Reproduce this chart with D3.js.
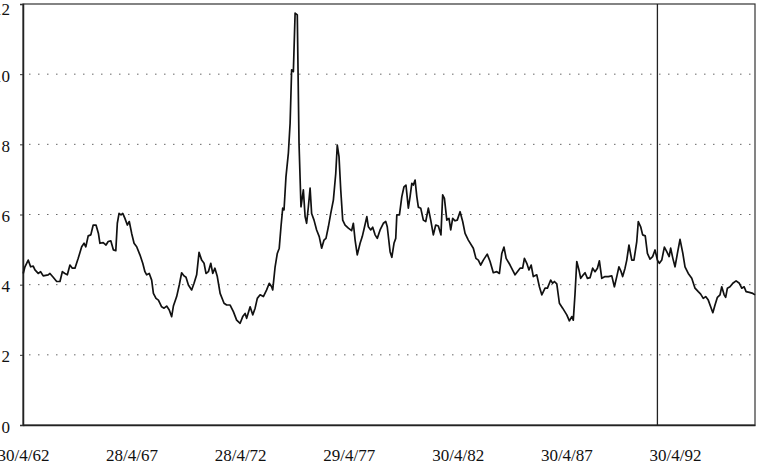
<!DOCTYPE html>
<html>
<head>
<meta charset="utf-8">
<script src="https://cdn.jsdelivr.net/npm/d3@7"></script>
<style>
  body { margin: 0; background: #fff; }
  svg { display: block; }
</style>
</head>
<body>
<script>
"use strict";

// decimal years
const dates = [
  1962.34, 1962.42, 1962.57, 1962.68, 1962.80, 1962.88, 1963.03, 1963.14, 1963.26, 1963.49,
  1963.57, 1963.72, 1963.88, 1964.03, 1964.14, 1964.26, 1964.37, 1964.49, 1964.60, 1964.72,
  1964.87, 1965.03, 1965.14, 1965.22, 1965.33, 1965.45, 1965.56, 1965.69, 1965.80, 1965.87,
  1966.02, 1966.15, 1966.25, 1966.37, 1966.49, 1966.60, 1966.67, 1966.75, 1966.84, 1966.92,
  1967.02, 1967.13, 1967.22, 1967.33, 1967.44, 1967.56, 1967.71, 1967.84, 1967.94, 1968.02,
  1968.14, 1968.25, 1968.33, 1968.45, 1968.56, 1968.71, 1968.82, 1968.94, 1969.06, 1969.17,
  1969.25, 1969.40, 1969.52, 1969.63, 1969.74, 1969.83, 1969.94, 1970.09, 1970.20, 1970.32,
  1970.43, 1970.55, 1970.66, 1970.75, 1970.86, 1970.97, 1971.06, 1971.16, 1971.27, 1971.40,
  1971.58, 1971.70, 1971.86, 1972.01, 1972.16, 1972.32, 1972.44, 1972.55, 1972.62, 1972.78,
  1972.90, 1973.01, 1973.11, 1973.24, 1973.39, 1973.54, 1973.66, 1973.77, 1973.82, 1973.93,
  1974.03, 1974.12, 1974.20, 1974.28, 1974.34, 1974.43, 1974.54, 1974.62, 1974.69, 1974.77,
  1974.85, 1974.95, 1975.03, 1975.12, 1975.23, 1975.31, 1975.38, 1975.46, 1975.54, 1975.61,
  1975.72, 1975.84, 1975.96, 1976.07, 1976.18, 1976.27, 1976.38, 1976.49, 1976.61, 1976.72,
  1976.79, 1976.87, 1976.95, 1977.04, 1977.15, 1977.30, 1977.45, 1977.53, 1977.61, 1977.71,
  1977.84, 1977.94, 1978.03, 1978.15, 1978.22, 1978.33, 1978.42, 1978.53, 1978.63, 1978.76,
  1978.91, 1979.02, 1979.09, 1979.22, 1979.30, 1979.40, 1979.48, 1979.53, 1979.65, 1979.76,
  1979.86, 1979.95, 1980.06, 1980.14, 1980.22, 1980.29, 1980.37, 1980.45, 1980.52, 1980.63,
  1980.75, 1980.86, 1980.98, 1981.09, 1981.21, 1981.32, 1981.44, 1981.56, 1981.64, 1981.72,
  1981.83, 1981.93, 1982.01, 1982.10, 1982.21, 1982.31, 1982.44, 1982.56, 1982.67, 1982.82,
  1983.05, 1983.17, 1983.28, 1983.39, 1983.51, 1983.69, 1983.82, 1983.97, 1984.13, 1984.25,
  1984.36, 1984.46, 1984.56, 1984.74, 1984.97, 1985.20, 1985.32, 1985.40, 1985.51, 1985.61,
  1985.71, 1985.81, 1985.97, 1986.09, 1986.20, 1986.35, 1986.46, 1986.55, 1986.61, 1986.70,
  1986.78, 1986.89, 1987.01, 1987.16, 1987.35, 1987.47, 1987.58, 1987.65, 1987.73, 1987.81,
  1987.91, 1987.99, 1988.11, 1988.19, 1988.30, 1988.42, 1988.54, 1988.65, 1988.76, 1988.85,
  1988.96, 1989.11, 1989.26, 1989.42, 1989.54, 1989.65, 1989.75, 1989.85, 1989.92, 1990.03,
  1990.11, 1990.21, 1990.34, 1990.44, 1990.57, 1990.64, 1990.75, 1990.84, 1990.96, 1991.06,
  1991.18, 1991.30, 1991.41, 1991.52, 1991.61, 1991.72, 1991.84, 1991.95, 1992.06, 1992.13,
  1992.23, 1992.33, 1992.44, 1992.56, 1992.69, 1992.79, 1992.94, 1993.10, 1993.25, 1993.40,
  1993.51, 1993.63, 1993.74, 1993.86, 1993.97, 1994.07, 1994.17, 1994.28, 1994.40, 1994.48,
  1994.59, 1994.66, 1994.74, 1994.86, 1994.99, 1995.14, 1995.29, 1995.40, 1995.51, 1995.60,
  1995.75, 1995.91, 1996.01
];

const values = [
  4.32, 4.51, 4.70, 4.51, 4.53, 4.42, 4.32, 4.37, 4.25, 4.28,
  4.32, 4.21, 4.09, 4.09, 4.37, 4.32, 4.28, 4.56, 4.47, 4.47,
  4.75, 5.08, 5.18, 5.08, 5.39, 5.42, 5.70, 5.70, 5.46, 5.18,
  5.20, 5.13, 5.23, 5.25, 4.99, 4.97, 5.75, 6.03, 5.99, 6.03,
  5.89, 5.70, 5.80, 5.46, 5.18, 5.08, 4.85, 4.61, 4.37, 4.28,
  4.32, 4.13, 3.75, 3.61, 3.56, 3.37, 3.33, 3.39, 3.28, 3.09,
  3.39, 3.66, 3.99, 4.34, 4.25, 4.21, 3.99, 3.85, 4.04, 4.28,
  4.92, 4.70, 4.61, 4.32, 4.37, 4.61, 4.32, 4.47, 4.23, 3.75,
  3.47, 3.42, 3.42, 3.23, 2.99, 2.90, 3.09, 3.18, 3.04, 3.37,
  3.14, 3.33, 3.61, 3.71, 3.66, 3.85, 4.04, 3.94, 3.85, 4.51,
  4.89, 5.04, 5.65, 6.18, 6.13, 7.08, 7.75, 8.60, 10.12, 10.07,
  11.74, 11.69, 8.03, 6.22, 6.70, 5.94, 5.75, 6.22, 6.75, 6.03,
  5.84, 5.56, 5.37, 5.04, 5.27, 5.32, 5.65, 6.03, 6.41, 7.17,
  7.98, 7.65, 6.70, 5.84, 5.70, 5.61, 5.54, 5.75, 5.27, 4.85,
  5.18, 5.37, 5.61, 5.94, 5.65, 5.56, 5.64, 5.42, 5.32, 5.56,
  5.75, 5.80, 5.65, 4.94, 4.78, 5.18, 5.32, 5.99, 5.99, 6.51,
  6.79, 6.84, 6.18, 6.51, 6.89, 6.84, 6.98, 6.51, 6.21, 6.18,
  5.84, 5.80, 6.18, 5.84, 5.42, 5.70, 5.67, 5.42, 6.56, 6.46,
  5.84, 5.89, 5.56, 5.89, 5.82, 5.84, 6.08, 5.80, 5.46, 5.27,
  5.04, 4.75, 4.70, 4.56, 4.70, 4.87, 4.66, 4.34, 4.37, 4.32,
  4.89, 5.07, 4.75, 4.56, 4.28, 4.47, 4.47, 4.75, 4.61, 4.42,
  4.56, 4.23, 4.28, 3.94, 3.71, 3.90, 3.90, 4.04, 4.13, 4.04,
  4.09, 4.02, 3.47, 3.33, 3.14, 2.97, 3.09, 2.99, 3.75, 4.66,
  4.42, 4.18, 4.28, 4.34, 4.18, 4.20, 4.47, 4.37, 4.47, 4.68,
  4.18, 4.23, 4.23, 4.25, 3.94, 4.23, 4.51, 4.37, 4.23, 4.47,
  4.70, 5.13, 4.70, 4.70, 5.23, 5.80, 5.65, 5.42, 5.39, 4.89,
  4.73, 4.80, 4.99, 4.70, 4.61, 4.70, 5.07, 4.94, 4.80, 5.04,
  4.75, 4.51, 4.89, 5.29, 4.89, 4.51, 4.32, 4.18, 3.90, 3.80,
  3.73, 3.61, 3.66, 3.56, 3.37, 3.20, 3.42, 3.64, 3.71, 3.94,
  3.71, 3.64, 3.90, 3.94, 4.04, 4.11, 4.04, 3.90, 3.94, 3.80,
  3.78, 3.75, 3.71
];

const xTickLabels = ["30/4/62", "28/4/67", "28/4/72", "29/4/77", "30/4/82", "30/4/87", "30/4/92"];
const xTickDates = [1962.33, 1967.32, 1972.32, 1977.32, 1982.33, 1987.33, 1992.33];
const yTicks = [0, 2, 4, 6, 8, 10, 12];
const markerDate = 1991.52;

draw_chart();

function draw_chart() {
    const wSvg = 758, hSvg = 466,
        left = 23, right = 755,
        top = 4, bottom = 425,
        font = "'Liberation Serif', 'DejaVu Serif', serif";

    const dataset = dates.map((d, i) => ({ date: d, value: values[i] }));

    const xScale = d3.scaleLinear()
        .domain([1962.33, 1996.01])
        .range([left, right]);

    const yScale = d3.scaleLinear()
        .domain([0, 12])
        .range([bottom, top]);

    const svg = d3.select("body").append("svg")
        .attr("width", wSvg).attr("height", hSvg);

    // sparse dotted gridlines, faint like the scan
    svg.append("g")
        .selectAll("line")
        .data(yTicks.filter(t => t > 0 && t < 12))
        .enter()
        .append("line")
        .attr("x1", left + 6).attr("x2", right)
        .attr("y1", d => yScale(d)).attr("y2", d => yScale(d))
        .attr("stroke", "#666")
        .attr("stroke-width", 1)
        .attr("stroke-dasharray", "1.5,7.5");

    // frame
    svg.append("rect")
        .attr("x", left).attr("y", top)
        .attr("width", right - left).attr("height", bottom - top)
        .attr("fill", "none")
        .attr("stroke", "#333")
        .attr("stroke-width", 1.2);

    // y axis
    const yAxis = d3.axisLeft(yScale)
        .tickValues(yTicks)
        .tickSize(3)
        .tickPadding(10)
        .tickFormat(d3.format("d"));

    svg.append("g")
        .attr("transform", `translate(${left}, 0)`)
        .call(yAxis)
        .attr("font-family", font)
        .attr("font-size", 17)
        .call(g => g.select(".domain").attr("stroke", "#222").attr("stroke-width", 1.5))
        .call(g => g.selectAll(".tick line").attr("stroke", "#333"))
        .call(g => g.selectAll(".tick text")
            .attr("fill", "#111")
            .attr("dy", d => d == 12 ? "0.62em" : "0.42em"));

    // x axis
    const xAxis = d3.axisBottom(xScale)
        .tickValues(xTickDates)
        .tickSize(0)
        .tickPadding(24)
        .tickFormat((d, i) => xTickLabels[i]);

    svg.append("g")
        .attr("transform", `translate(0, ${bottom})`)
        .call(xAxis)
        .attr("font-family", font)
        .attr("font-size", 17)
        .call(g => g.select(".domain").attr("stroke", "#222").attr("stroke-width", 1.5))
        .call(g => g.selectAll(".tick text").attr("fill", "#111"));

    // vertical marker line
    svg.append("line")
        .attr("x1", xScale(markerDate)).attr("x2", xScale(markerDate))
        .attr("y1", top).attr("y2", bottom)
        .attr("stroke", "#222")
        .attr("stroke-width", 1.3);

    // series
    const line = d3.line()
        .x(d => xScale(d.date))
        .y(d => yScale(d.value));

    svg.append("path")
        .datum(dataset)
        .attr("d", line)
        .attr("fill", "none")
        .attr("stroke", "#111")
        .attr("stroke-width", 1.7)
        .attr("stroke-linejoin", "round");
}
</script>
</body>
</html>
